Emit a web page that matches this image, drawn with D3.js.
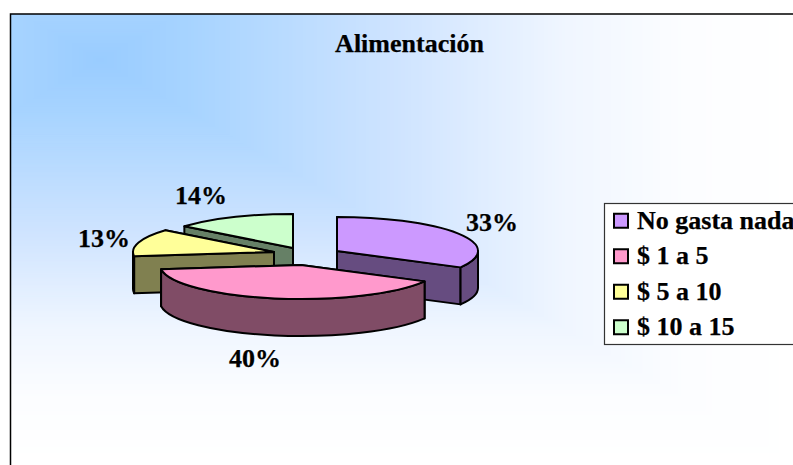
<!doctype html>
<html>
  <head>
    <script src="https://cdnjs.cloudflare.com/ajax/libs/d3/7.8.5/d3.min.js"></script>
    <style>
      html, body { margin: 0; background: #fff; }
      svg { display: block; }
      text { font-family: "Liberation Serif", serif; font-weight: bold; fill: #000; stroke: #000; stroke-width: 0.25px; }
      .face { stroke: #000; stroke-width: 2px; stroke-linejoin: round; }
    </style>
  </head>
  <body>
    <svg width="793" height="465"></svg>
    <script>
      var categories = ["No gasta nada", "$ 1 a 5", "$ 5 a 10", "$ 10 a 15"];
      var values = [33, 40, 13, 14];
      var pctLabels = ["33%", "40%", "13%", "14%"];
      var topColors = ["#CC99FF", "#FF99CC", "#FFFF99", "#CCFFCC"];
      var sideColors = ["#664C80", "#804C66", "#808050", "#668066"];

      var svg = d3.select("svg");
      var rx = 141, ry = 34, depth = 37;

      // where each exploded slice has its apex, and where its label sits
      var apex = [[337, 251], [301, 265], [274, 252], [293, 248]];
      var labelPos = [[492, 231], [255, 367], [104, 247], [201, 204]];

      // background: the rectangular "path" gradient, as nested rects
      var bgColor = d3.scaleLinear()
        .domain([0, 0.14, 0.43, 0.67, 0.84, 1])
        .range(["#99CCFF", "#A8D4FF", "#CFE4FF", "#F0F6FF", "#FCFDFF", "#FFFFFF"]);
      var cx = 100, cy = 60, gw = 700, gh = 405;

      svg.append("defs").append("clipPath").attr("id", "plot")
        .append("rect").attr("x", 10).attr("y", 14).attr("width", 800).attr("height", 470);

      svg.append("g").attr("clip-path", "url(#plot)")
        .selectAll("rect")
        .data(d3.range(1, 0, -0.005))
        .enter()
        .append("rect")
          .attr("x", t => cx - gw * t)
          .attr("y", t => cy - gh * t)
          .attr("width", t => 2 * gw * t)
          .attr("height", t => 2 * gh * t)
          .attr("fill", t => bgColor(t));

      svg.append("rect")
        .attr("x", 10.5).attr("y", 14)
        .attr("width", 800).attr("height", 470)
        .attr("fill", "none")
        .attr("stroke", "#000").attr("stroke-width", 1.5);

      svg.append("text")
        .attr("x", 409.5).attr("y", 52)
        .attr("text-anchor", "middle")
        .style("font-size", "26px")
        .text("Alimentación");

      var pie = d3.pie().sort(null)(values);

      function px(i, a) { return apex[i][0] + rx * Math.sin(a); }
      function py(i, a) { return apex[i][1] - ry * Math.cos(a); }

      function topPath(d, i) {
        return "M" + apex[i] +
          "L" + px(i, d.startAngle) + "," + py(i, d.startAngle) +
          "A" + rx + "," + ry + " 0 " + (d.endAngle - d.startAngle > Math.PI ? 1 : 0) + " 1 " +
          px(i, d.endAngle) + "," + py(i, d.endAngle) + "Z";
      }
      function cutPath(i, a) {
        return "M" + apex[i] +
          "L" + px(i, a) + "," + py(i, a) +
          "v" + depth + "L" + apex[i][0] + "," + (apex[i][1] + depth) + "Z";
      }
      function wallPath(d, i) {
        // only the front half of the rim can be seen
        var a0 = Math.max(d.startAngle, Math.PI / 2), a1 = Math.min(d.endAngle, Math.PI * 1.5);
        if (a1 <= a0) return null;
        return "M" + px(i, a0) + "," + py(i, a0) +
          "A" + rx + "," + ry + " 0 0 1 " + px(i, a1) + "," + py(i, a1) +
          "v" + depth +
          "A" + rx + "," + ry + " 0 0 0 " + px(i, a0) + "," + (py(i, a0) + depth) + "Z";
      }

      // back to front
      var order = [3, 2, 0, 1];
      var slices = svg.append("g").selectAll("g")
        .data(order)
        .enter()
        .append("g");

      slices.each(function(i) {
        var g = d3.select(this), d = pie[i];
        // the cut face further back goes first so the nearer one hides it
        [d.startAngle, d.endAngle]
          .sort((a, b) => py(i, a) - py(i, b))
          .forEach(function(a) {
            g.append("path").attr("class", "face").attr("fill", sideColors[i]).attr("d", cutPath(i, a));
          });
        var wall = wallPath(d, i);
        if (wall) g.append("path").attr("class", "face").attr("fill", sideColors[i]).attr("d", wall);
        g.append("path").attr("class", "face").attr("fill", topColors[i]).attr("d", topPath(d, i));
      });

      svg.append("g").selectAll("text")
        .data(pctLabels)
        .enter()
        .append("text")
          .attr("x", (d, i) => labelPos[i][0])
          .attr("y", (d, i) => labelPos[i][1])
          .attr("text-anchor", "middle")
          .style("font-size", "26px")
          .text(d => d);

      // legend
      var rowY = d3.scaleBand().domain(categories).range([203, 345]);
      var legend = svg.append("g");
      legend.append("rect")
        .attr("x", 604.5).attr("y", 203.5)
        .attr("width", 200).attr("height", 141)
        .attr("fill", "#fff").attr("stroke", "#333").attr("stroke-width", 1.2);
      var rows = legend.selectAll("g")
        .data(categories)
        .enter()
        .append("g")
          .attr("transform", d => `translate(0,${rowY(d) + rowY.bandwidth() / 2})`);
      rows.append("rect")
        .attr("x", 614).attr("y", -7).attr("width", 14).attr("height", 14)
        .attr("fill", (d, i) => topColors[i])
        .attr("stroke", "#000").attr("stroke-width", 2);
      rows.append("text")
        .attr("x", 637).attr("y", 8)
        .style("font-size", "26px")
        .text(d => d);
    </script>
  </body>
</html>
